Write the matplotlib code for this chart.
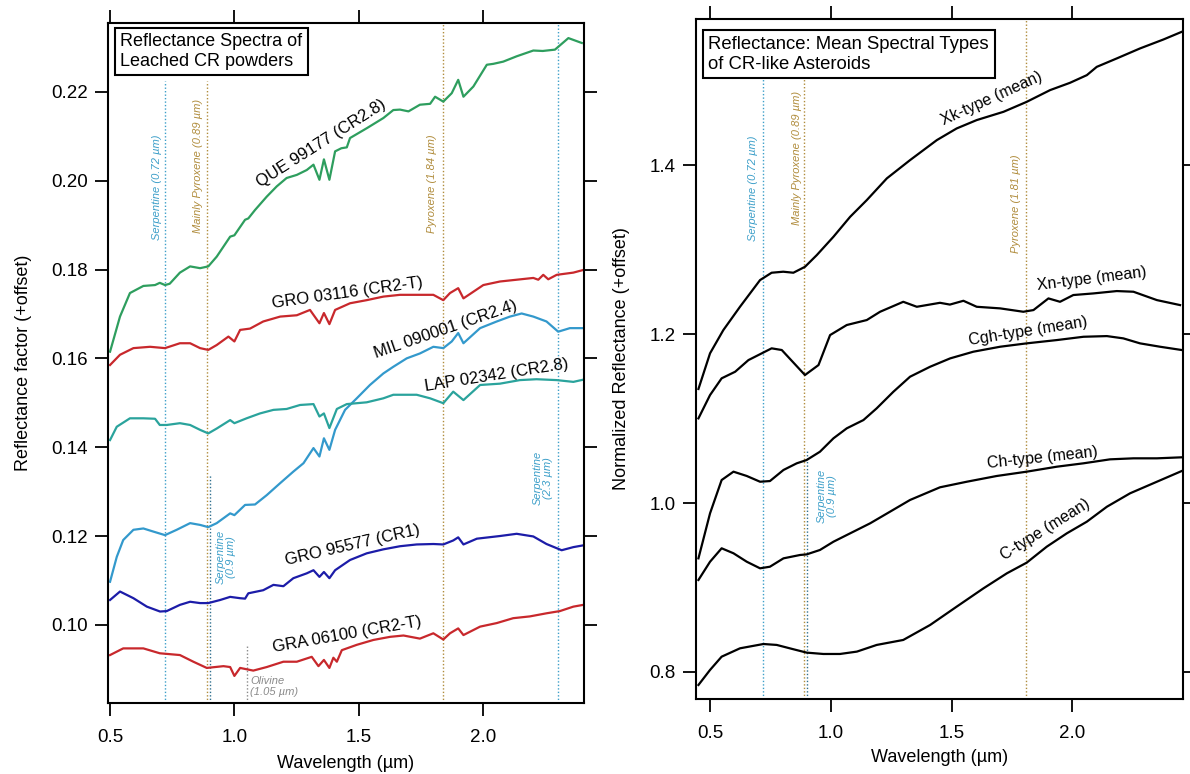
import matplotlib
matplotlib.use("Agg")
import matplotlib.pyplot as plt

plt.rcParams['font.family'] = ['Liberation Sans', 'DejaVu Sans']
plt.rcParams['mathtext.default'] = 'regular'

# ---- leached CR powders (reflectance factor, offset) ----
que_wl = [0.50, 0.54, 0.58, 0.634, 0.681, 0.70, 0.721, 0.74, 0.781, 0.822, 0.862, 0.895, 0.929,
          0.983, 1.00, 1.043, 1.056, 1.083, 1.13, 1.17, 1.21, 1.251, 1.291, 1.318, 1.342, 1.36,
          1.382, 1.405, 1.43, 1.452, 1.465, 1.532, 1.599, 1.639, 1.666, 1.70, 1.746, 1.787, 1.807,
          1.84, 1.874, 1.90, 1.921, 1.961, 2.015, 2.041, 2.081, 2.135, 2.202, 2.24, 2.289, 2.343, 2.397]
que_refl = [0.1615, 0.1694, 0.1747, 0.1763, 0.1765, 0.1770, 0.1765, 0.1768, 0.1793, 0.1807, 0.1803,
            0.1807, 0.1829, 0.1874, 0.1877, 0.1912, 0.1915, 0.1934, 0.1964, 0.1987, 0.2006, 0.2013,
            0.2024, 0.2036, 0.2002, 0.2048, 0.2002, 0.2066, 0.2073, 0.2075, 0.2096, 0.2118, 0.2141,
            0.2159, 0.2160, 0.2156, 0.2171, 0.2173, 0.2189, 0.2178, 0.2197, 0.2227, 0.2189, 0.2212,
            0.2261, 0.2263, 0.2268, 0.2280, 0.2293, 0.2292, 0.2295, 0.2321, 0.2310]

gro03_wl = [0.50, 0.54, 0.594, 0.661, 0.721, 0.781, 0.822, 0.862, 0.895, 0.929, 0.976, 1.00, 1.023,
            1.063, 1.116, 1.184, 1.251, 1.304, 1.342, 1.36, 1.382, 1.405, 1.465, 1.532, 1.599, 1.666,
            1.733, 1.80, 1.84, 1.867, 1.90, 1.921, 2.001, 2.068, 2.135, 2.202, 2.222, 2.242, 2.262,
            2.296, 2.363, 2.403]
gro03_refl = [0.1585, 0.1608, 0.1623, 0.1626, 0.1623, 0.1634, 0.1634, 0.1623, 0.1619, 0.1630, 0.1649,
              0.1638, 0.1664, 0.1667, 0.1683, 0.1694, 0.1697, 0.1709, 0.1679, 0.1702, 0.1677, 0.1709,
              0.1724, 0.1731, 0.1739, 0.1743, 0.1743, 0.1743, 0.1731, 0.1747, 0.1758, 0.1735, 0.1765,
              0.1773, 0.1777, 0.1781, 0.1777, 0.1788, 0.1778, 0.1788, 0.1793, 0.1799]

mil_wl = [0.50, 0.527, 0.553, 0.594, 0.634, 0.674, 0.721, 0.768, 0.822, 0.862, 0.895, 0.929, 0.983,
          1.00, 1.043, 1.083, 1.13, 1.184, 1.237, 1.278, 1.318, 1.342, 1.36, 1.382, 1.405, 1.445,
          1.492, 1.545, 1.599, 1.639, 1.693, 1.746, 1.80, 1.84, 1.874, 1.90, 1.921, 1.988, 2.055,
          2.108, 2.155, 2.202, 2.255, 2.302, 2.349, 2.403]
mil_refl = [0.1097, 0.1153, 0.1191, 0.1214, 0.1217, 0.1210, 0.1202, 0.1214, 0.1229, 0.1225, 0.1220,
            0.1229, 0.1251, 0.1247, 0.1270, 0.1271, 0.1292, 0.1319, 0.1345, 0.1364, 0.1398, 0.1379,
            0.1420, 0.1394, 0.1439, 0.1484, 0.1510, 0.1540, 0.1566, 0.1581, 0.1600, 0.1611, 0.1626,
            0.1623, 0.1638, 0.1657, 0.1634, 0.1668, 0.1683, 0.1694, 0.1701, 0.1694, 0.1683, 0.1660,
            0.1668, 0.1668]

lap_wl = [0.50, 0.527, 0.58, 0.634, 0.681, 0.70, 0.728, 0.781, 0.822, 0.862, 0.895, 0.929, 0.983,
          1.00, 1.049, 1.103, 1.157, 1.21, 1.264, 1.318, 1.342, 1.36, 1.382, 1.412, 1.452, 1.532,
          1.599, 1.639, 1.733, 1.787, 1.84, 1.88, 1.921, 1.988, 2.068, 2.148, 2.215, 2.296, 2.363, 2.403]
lap_refl = [0.1416, 0.1446, 0.1465, 0.1465, 0.1464, 0.1450, 0.1450, 0.1454, 0.1450, 0.1439, 0.1431,
            0.1442, 0.1461, 0.1454, 0.1465, 0.1476, 0.1484, 0.1486, 0.1495, 0.1497, 0.1469, 0.1476,
            0.1443, 0.1486, 0.1497, 0.1501, 0.1510, 0.1518, 0.1518, 0.1510, 0.1499, 0.1525, 0.1506,
            0.1540, 0.1543, 0.1551, 0.1553, 0.1551, 0.1547, 0.1552]

gro95_wl = [0.50, 0.54, 0.594, 0.648, 0.701, 0.728, 0.781, 0.822, 0.862, 0.895, 0.943, 0.983, 1.023,
            1.043, 1.056, 1.116, 1.157, 1.197, 1.237, 1.291, 1.318, 1.342, 1.36, 1.382, 1.405, 1.465,
            1.532, 1.599, 1.666, 1.733, 1.80, 1.84, 1.88, 1.90, 1.921, 1.975, 2.068, 2.135, 2.202,
            2.255, 2.316, 2.363, 2.403]
gro95_refl = [0.1056, 0.1075, 0.1060, 0.1041, 0.1030, 0.1031, 0.1045, 0.1052, 0.1049, 0.1049, 0.1056,
              0.1063, 0.1060, 0.1059, 0.1071, 0.1078, 0.1090, 0.1087, 0.1105, 0.1116, 0.1123, 0.1108,
              0.1119, 0.1105, 0.1123, 0.1146, 0.1161, 0.1170, 0.1177, 0.1181, 0.1182, 0.1181, 0.1190,
              0.1197, 0.1181, 0.1194, 0.1200, 0.1205, 0.1199, 0.1182, 0.1168, 0.1175, 0.1179]

gra_wl = [0.50, 0.553, 0.634, 0.70, 0.781, 0.835, 0.889, 0.956, 0.983, 1.00, 1.023, 1.076, 1.13,
          1.197, 1.251, 1.311, 1.338, 1.36, 1.382, 1.398, 1.412, 1.432, 1.492, 1.559, 1.626, 1.68,
          1.746, 1.80, 1.84, 1.867, 1.90, 1.921, 1.988, 2.055, 2.121, 2.188, 2.255, 2.309, 2.363, 2.403]
gra_refl = [0.0932, 0.0947, 0.0947, 0.0936, 0.0932, 0.0917, 0.0903, 0.0907, 0.0905, 0.0885, 0.0903,
            0.0897, 0.0905, 0.0917, 0.0917, 0.0928, 0.0907, 0.0921, 0.0903, 0.0926, 0.0917, 0.0943,
            0.0955, 0.0966, 0.0973, 0.0976, 0.0969, 0.0981, 0.0967, 0.0981, 0.0992, 0.0977, 0.0996,
            0.1004, 0.1015, 0.1019, 0.1026, 0.1031, 0.1041, 0.1045]

# ---- mean asteroid spectral types (normalized, offset) ----
xk_wl = [0.452, 0.50, 0.555, 0.624, 0.707, 0.755, 0.803, 0.845, 0.893, 0.942, 1.011, 1.08, 1.149,
         1.232, 1.328, 1.439, 1.521, 1.604, 1.715, 1.811, 1.908, 1.99, 2.06, 2.101, 2.184, 2.28,
         2.377, 2.453]
xk_refl = [1.135, 1.1772, 1.2047, 1.2323, 1.2639, 1.2726, 1.2738, 1.2726, 1.2796, 1.2935, 1.3152,
           1.3388, 1.3586, 1.3843, 1.4059, 1.4296, 1.4434, 1.4533, 1.4631, 1.4749, 1.4888, 1.4974,
           1.5065, 1.5163, 1.5263, 1.5381, 1.5487, 1.5578]

xn_wl = [0.452, 0.50, 0.548, 0.604, 0.659, 0.755, 0.797, 0.893, 0.949, 0.997, 1.066, 1.149, 1.204,
         1.30, 1.356, 1.452, 1.493, 1.549, 1.604, 1.701, 1.797, 1.839, 1.901, 1.949, 2.004, 2.087,
         2.184, 2.253, 2.35, 2.446]
xn_refl = [1.1002, 1.1278, 1.1476, 1.1554, 1.1692, 1.1831, 1.1811, 1.1515, 1.1633, 1.1988, 1.2107,
           1.2166, 1.2264, 1.2382, 1.2323, 1.2370, 1.2349, 1.2394, 1.2323, 1.2304, 1.2264, 1.2284,
           1.2422, 1.2382, 1.2462, 1.2481, 1.2509, 1.2501, 1.2402, 1.2343]

cgh_wl = [0.452, 0.50, 0.548, 0.597, 0.652, 0.707, 0.748, 0.804, 0.859, 0.90, 0.955, 1.011, 1.066,
          1.135, 1.19, 1.259, 1.328, 1.411, 1.494, 1.59, 1.701, 1.811, 1.936, 2.046, 2.143, 2.211,
          2.28, 2.363, 2.453]
cgh_refl = [0.9345, 0.9878, 1.0272, 1.0371, 1.0320, 1.0252, 1.0260, 1.0391, 1.0470, 1.0509, 1.0607,
            1.0766, 1.0884, 1.0982, 1.1121, 1.1317, 1.1495, 1.1613, 1.1712, 1.1791, 1.1850, 1.1890,
            1.1929, 1.1968, 1.1976, 1.1949, 1.1890, 1.1850, 1.1811]

ch_wl = [0.452, 0.50, 0.548, 0.597, 0.652, 0.707, 0.748, 0.804, 0.873, 0.90, 0.955, 1.011, 1.08,
         1.163, 1.245, 1.328, 1.452, 1.563, 1.687, 1.811, 1.936, 2.046, 2.156, 2.253, 2.35, 2.453]
ch_refl = [0.9089, 0.9305, 0.9464, 0.9405, 0.9305, 0.9227, 0.9246, 0.9345, 0.9385, 0.9392, 0.9444,
           0.9542, 0.9641, 0.9760, 0.9897, 1.0036, 1.0186, 1.0252, 1.0320, 1.0371, 1.0430, 1.0470,
           1.0517, 1.0529, 1.0529, 1.0541]

c_wl = [0.452, 0.50, 0.548, 0.624, 0.721, 0.776, 0.845, 0.90, 0.969, 1.038, 1.108, 1.19, 1.30,
        1.411, 1.521, 1.632, 1.729, 1.811, 1.894, 1.977, 2.06, 2.143, 2.239, 2.35, 2.453]
c_refl = [0.7846, 0.8024, 0.8181, 0.8280, 0.8331, 0.8320, 0.8269, 0.8229, 0.8213, 0.8213, 0.8241,
          0.8320, 0.8379, 0.8556, 0.8773, 0.8990, 0.9168, 0.9294, 0.9483, 0.9641, 0.9779, 0.9956,
          1.0115, 1.0252, 1.0379]

SERP = "#3d9fc9"
PYX = "#b08c3c"
OLV = "#8a8a8a"


def band_line(ax, x, color, ymin=None, ymax=None, lw=1.0):
    y0, y1 = ax.get_ylim()
    ax.vlines(x, y0 if ymin is None else ymin, y1 if ymax is None else ymax,
              colors=color, linestyles=(0, (1, 1.5)), linewidth=lw, zorder=1)


def band_label(ax, x, y, text, color, rot=90):
    ax.text(x, y, text, color=color, fontsize=8, style='italic', rotation=rot,
            ha='center', va='center', linespacing=1.0)


def curve_label(ax, x, y, text, rot, size=12):
    ax.text(x, y, text, fontsize=size, rotation=rot, ha='center', va='center',
            rotation_mode='anchor')


def title_box(ax, x, y, text, size=13):
    ax.text(x, y, text, transform=ax.transAxes, fontsize=size, ha='left', va='top',
            linespacing=1.2,
            bbox=dict(boxstyle='square,pad=0.3', fc='white', ec='black', lw=1.5))


def style_axes(ax, ylabel, xpad):
    for s in ax.spines.values():
        s.set_linewidth(1.5)
    ax.tick_params(direction='out', length=9.5, width=1.3, labelsize=13.5, pad=5,
                   top=True, right=True, labeltop=False, labelright=False)
    ax.tick_params(axis='x', pad=9)
    ax.set_xticks([0.5, 1.0, 1.5, 2.0])
    ax.set_xlabel("Wavelength (µm)", fontsize=13, labelpad=xpad)
    ax.set_ylabel(ylabel, fontsize=13, labelpad=14)


fig = plt.figure(figsize=(11.9, 7.74), dpi=100)
ax1 = fig.add_axes([0.0908, 0.0917, 0.400, 0.8786])
ax2 = fig.add_axes([0.5849, 0.0969, 0.4092, 0.8786])

# ---------------- left panel ----------------
ax1.set_xlim(0.492, 2.406)
ax1.set_ylim(0.0824, 0.2355)
left_ticks = [0.10, 0.12, 0.14, 0.16, 0.18, 0.20, 0.22]
ax1.set_yticks(left_ticks)
ax1.set_yticklabels([f"{v:.2f}" for v in left_ticks])

band_line(ax1, 0.72, SERP, ymax=0.2225)
band_line(ax1, 0.89, PYX, ymax=0.2225)
band_line(ax1, 0.90, "#2e6f8e", ymax=0.134)
band_line(ax1, 1.84, PYX)
band_line(ax1, 2.30, SERP)
band_line(ax1, 1.05, OLV, ymax=0.0955)

ax1.plot(que_wl, que_refl, color="#2e9e5e", lw=1.6)
ax1.plot(gro03_wl, gro03_refl, color="#c8282c", lw=1.6)
ax1.plot(mil_wl, mil_refl, color="#3399cc", lw=1.6)
ax1.plot(lap_wl, lap_refl, color="#2aa39c", lw=1.6)
ax1.plot(gro95_wl, gro95_refl, color="#1c1ca8", lw=1.6)
ax1.plot(gra_wl, gra_refl, color="#c8282c", lw=1.6)

band_label(ax1, 0.688, 0.1986, "Serpentine (0.72 µm)", SERP)
band_label(ax1, 0.855, 0.2033, "Mainly Pyroxene (0.89 µm)", PYX)
band_label(ax1, 1.796, 0.1993, "Pyroxene (1.84 µm)", PYX)
band_label(ax1, 2.241, 0.1330, "Serpentine\n(2.3 µm)", SERP)
band_label(ax1, 0.966, 0.1152, "Serpentine\n(0.9 µm)", SERP)
ax1.text(1.063, 0.0862, "Olivine\n(1.05 µm)", color=OLV, fontsize=8, style='italic',
         ha='left', va='center', linespacing=1.1)

curve_label(ax1, 1.348, 0.2083, "QUE 99177 (CR2.8)", 32.5)
curve_label(ax1, 1.453, 0.1747, "GRO 03116 (CR2-T)", 8)
curve_label(ax1, 1.851, 0.1666, "MIL 090001 (CR2.4)", 19)
curve_label(ax1, 2.056, 0.1563, "LAP 02342 (CR2.8)", 9)
curve_label(ax1, 1.474, 0.1180, "GRO 95577 (CR1)", 13)
curve_label(ax1, 1.453, 0.0979, "GRA 06100 (CR2-T)", 10)

title_box(ax1, 0.026, 0.985, "Reflectance Spectra of\nLeached CR powders")
style_axes(ax1, "Reflectance factor (+offset)", 7)

# ---------------- right panel ----------------
ax2.set_xlim(0.442, 2.458)
ax2.set_ylim(0.768, 1.573)
ax2.set_yticks([0.8, 1.0, 1.2, 1.4])

band_line(ax2, 0.72, SERP, ymax=1.503)
band_line(ax2, 0.89, PYX, ymax=1.503)
band_line(ax2, 0.90, "#2e6f8e", ymax=1.063)
band_line(ax2, 1.81, PYX)

for wl, refl in [(xk_wl, xk_refl), (xn_wl, xn_refl), (cgh_wl, cgh_refl),
                 (ch_wl, ch_refl), (c_wl, c_refl)]:
    ax2.plot(wl, refl, color="black", lw=1.6)

band_label(ax2, 0.679, 1.3727, "Serpentine (0.72 µm)", SERP)
band_label(ax2, 0.859, 1.4089, "Mainly Pyroxene (0.89 µm)", PYX)
band_label(ax2, 1.767, 1.3547, "Pyroxene (1.81 µm)", PYX)
band_label(ax2, 0.983, 1.0083, "Serpentine\n(0.9 µm)", SERP)

curve_label(ax2, 1.666, 1.479, "Xk-type (mean)", 24.5, 11.5)
curve_label(ax2, 2.080, 1.2659, "Xn-type (mean)", 7, 11.5)
curve_label(ax2, 1.815, 1.2035, "Cgh-type (mean)", 9, 11.5)
curve_label(ax2, 1.877, 1.054, "Ch-type (mean)", 6, 11.5)
curve_label(ax2, 1.887, 0.969, "C-type (mean)", 32, 11.5)

title_box(ax2, 0.0255, 0.975, "Reflectance: Mean Spectral Types\nof CR-like Asteroids", 13.3)
style_axes(ax2, "Normalized Reflectance (+offset)", 5)

fig.savefig("out.png", dpi=100)
